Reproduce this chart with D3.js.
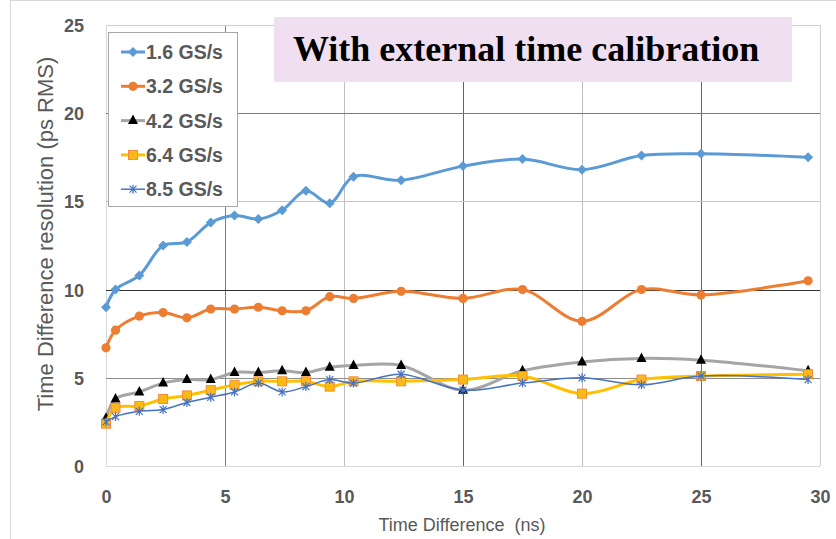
<!DOCTYPE html>
<html>
<head>
<meta charset="utf-8">
<script src="https://cdn.jsdelivr.net/npm/d3@7"></script>
<style>
  body { margin: 0; background: #fff; }
  svg { display: block; }
</style>
</head>
<body>
<svg id="chart" width="836" height="539"></svg>
<script>
// Time difference (ns) at which each resolution was measured
const timeDiff = [0, 0.4, 1.4, 2.4, 3.4, 4.4, 5.4, 6.4, 7.4, 8.4, 9.4, 10.4, 12.4, 15, 17.5, 20, 22.5, 25, 29.5];
// Time difference resolution (ps RMS) per sampling rate
const res16 = [9.0, 10.0, 10.8, 12.5, 12.7, 13.8, 14.2, 14.0, 14.5, 15.6, 14.9, 16.4, 16.2, 17.0, 17.4, 16.8, 17.6, 17.7, 17.5];
const res32 = [6.7, 7.7, 8.5, 8.7, 8.4, 8.9, 8.9, 9.0, 8.8, 8.8, 9.6, 9.5, 9.9, 9.5, 10.0, 8.2, 10.0, 9.7, 10.5];
const res42 = [2.7, 3.8, 4.2, 4.7, 4.9, 4.9, 5.3, 5.3, 5.4, 5.3, 5.6, 5.7, 5.7, 4.3, 5.4, 5.9, 6.1, 6.0, 5.4];
const res64 = [2.4, 3.3, 3.4, 3.8, 4.0, 4.3, 4.6, 4.8, 4.8, 4.8, 4.5, 4.8, 4.8, 4.9, 5.1, 4.1, 4.9, 5.1, 5.2];
const res85 = [2.5, 2.8, 3.1, 3.2, 3.6, 3.9, 4.2, 4.7, 4.2, 4.5, 4.9, 4.7, 5.2, 4.3, 4.7, 5.0, 4.6, 5.1, 4.9];
const seriesNames = ["1.6 GS/s", "3.2 GS/s", "4.2 GS/s", "6.4 GS/s", "8.5 GS/s"];
const xTicks = [0, 5, 10, 15, 20, 25, 30];
const yTicks = [0, 5, 10, 15, 20, 25];
const titleText = "With external time calibration";
const xTitle = "Time Difference  (ns)";
const yTitle = "Time Difference resolution (ps RMS)";

const svg = d3.select("#chart");
const W = 836, H = 539;
const plot = { left: 106, right: 820, top: 25, bottom: 466 };

const x = d3.scaleLinear().domain([0, 30]).range([plot.left, plot.right]);
const y = d3.scaleLinear().domain([0, 25]).range([plot.bottom, plot.top]);

const sans = "'Liberation Sans', Arial, sans-serif";
const labelGrey = "#595959";

// outer frame (top and left edges)
svg.append("line").attr("x1", 10.5).attr("x2", 10.5).attr("y1", 0).attr("y2", H)
  .attr("stroke", "#d9d9d9");
svg.append("line").attr("x1", 10).attr("x2", W).attr("y1", 0.5).attr("y2", 0.5)
  .attr("stroke", "#d9d9d9");

// gridlines: major lines drawn in alternating weights of grey
const vGridColour = { 0: "#d9d9d9", 5: "#7f7f7f", 10: "#bfbfbf", 15: "#666666", 20: "#bfbfbf", 25: "#666666", 30: "#cfcfcf" };
const hGridColour = { 0: "#d9d9d9", 5: "#8c8c8c", 10: "#333333", 15: "#c4c4c4", 20: "#7a7a7a", 25: "#cfcfcf" };

const grid = svg.append("g");
grid.selectAll("line.v").data(xTicks).join("line")
  .attr("class", "v")
  .attr("x1", d => Math.round(x(d)) + 0.5).attr("x2", d => Math.round(x(d)) + 0.5)
  .attr("y1", plot.top).attr("y2", plot.bottom)
  .attr("stroke", d => vGridColour[d]).attr("stroke-width", 1);
grid.selectAll("line.h").data(yTicks).join("line")
  .attr("class", "h")
  .attr("x1", plot.left).attr("x2", plot.right)
  .attr("y1", d => Math.round(y(d)) + 0.5).attr("y2", d => Math.round(y(d)) + 0.5)
  .attr("stroke", d => hGridColour[d]).attr("stroke-width", 1);

// axes (labels only)
const xAxis = svg.append("g").attr("transform", `translate(0,${plot.bottom})`)
  .call(d3.axisBottom(x).tickValues(xTicks).tickSize(0).tickPadding(0).tickFormat(d3.format("d")));
xAxis.select(".domain").remove();
xAxis.selectAll("text")
  .attr("y", 37).attr("dy", null)
  .attr("font-family", sans).attr("font-size", 18).attr("font-weight", "bold")
  .attr("fill", labelGrey);

const yAxis = svg.append("g").attr("transform", `translate(84,0)`)
  .call(d3.axisLeft(y).tickValues(yTicks).tickSize(0).tickPadding(0).tickFormat(d3.format("d")));
yAxis.select(".domain").remove();
yAxis.selectAll("text")
  .attr("x", 0).attr("dy", "0.36em")
  .attr("font-family", sans).attr("font-size", 18).attr("font-weight", "bold")
  .attr("fill", labelGrey);

// axis titles
svg.append("text")
  .attr("x", 462).attr("y", 531)
  .attr("text-anchor", "middle")
  .style("white-space", "pre")
  .attr("font-family", sans).attr("font-size", 18).attr("fill", labelGrey)
  .text(xTitle);
svg.append("text")
  .attr("transform", "translate(53,234) rotate(-90)")
  .attr("text-anchor", "middle")
  .attr("font-family", sans).attr("font-size", 22).attr("fill", labelGrey)
  .text(yTitle);

// marker shapes
const markers = {
  diamond: g => g.append("path").attr("d", "M0,-5L5,0L0,5L-5,0Z").attr("fill", "#5B9BD5"),
  circle: g => g.append("circle").attr("r", 4.6).attr("fill", "#ED7D31"),
  triangle: g => g.append("path").attr("d", "M0,-6L5,3.5L-5,3.5Z").attr("fill", "#000"),
  square: g => {
    g.append("rect").attr("x", -4.5).attr("y", -4.5).attr("width", 9).attr("height", 9)
      .attr("fill", "#FFC000").attr("stroke", "#F08A3C").attr("stroke-width", 1);
    g.append("path").attr("d", "M-3.5,-3.5L3.5,3.5M3.5,-3.5L-3.5,3.5")
      .attr("stroke", "#F3A65A").attr("stroke-width", 1);
  },
  star: g => g.append("path").attr("d", "M-3.5,-3.5L3.5,3.5M3.5,-3.5L-3.5,3.5M0,-4.5L0,4.5")
    .attr("stroke", "#4472C4").attr("stroke-width", 1.2).attr("fill", "none")
};

const series = [
  { name: seriesNames[0], values: res16, colour: "#5B9BD5", width: 3, marker: "diamond" },
  { name: seriesNames[1], values: res32, colour: "#ED7D31", width: 3, marker: "circle" },
  { name: seriesNames[2], values: res42, colour: "#A5A5A5", width: 3, marker: "triangle" },
  { name: seriesNames[3], values: res64, colour: "#FFC000", width: 3, marker: "square" },
  { name: seriesNames[4], values: res85, colour: "#4472C4", width: 1.5, marker: "star" }
];

const line = d3.line()
  .x(d => x(d[0]))
  .y(d => y(d[1]))
  .curve(d3.curveCatmullRom.alpha(0.5));

const plotG = svg.append("g");
series.forEach(s => {
  const pts = timeDiff.map((t, i) => [t, s.values[i]]);
  const g = plotG.append("g");
  g.append("path").datum(pts)
    .attr("d", line)
    .attr("fill", "none")
    .attr("stroke", s.colour)
    .attr("stroke-width", s.width)
    .attr("stroke-linejoin", "round")
    .attr("stroke-linecap", "round");
  g.selectAll("g.m").data(pts).join("g")
    .attr("class", "m")
    .attr("transform", d => `translate(${x(d[0])},${y(d[1])})`)
    .each(function () { markers[s.marker](d3.select(this)); });
});

// legend
const legend = svg.append("g");
legend.append("rect")
  .attr("x", 108.5).attr("y", 32.5).attr("width", 129).attr("height", 174)
  .attr("fill", "#fff").attr("stroke", "#a6a6a6").attr("stroke-width", 1);
series.forEach((s, i) => {
  const cy = 52 + i * 34.3;
  const row = legend.append("g");
  row.append("line")
    .attr("x1", 121).attr("x2", 145).attr("y1", cy).attr("y2", cy)
    .attr("stroke", s.colour).attr("stroke-width", s.width);
  const m = row.append("g").attr("transform", `translate(133,${cy})`);
  markers[s.marker](m);
  row.append("text")
    .attr("x", 146).attr("y", cy).attr("dy", "0.36em")
    .attr("font-family", sans).attr("font-size", 19.5).attr("font-weight", "bold")
    .attr("fill", labelGrey)
    .text(s.name);
});

// title banner
svg.append("rect")
  .attr("x", 274).attr("y", 17).attr("width", 518).attr("height", 65)
  .attr("fill", "#F0DFF0");
svg.append("text")
  .attr("x", 293).attr("y", 61)
  .attr("font-family", "'Liberation Serif', 'Times New Roman', serif")
  .attr("font-size", 36).attr("font-weight", "bold").attr("fill", "#000")
  .text(titleText);
</script>
</body>
</html>
